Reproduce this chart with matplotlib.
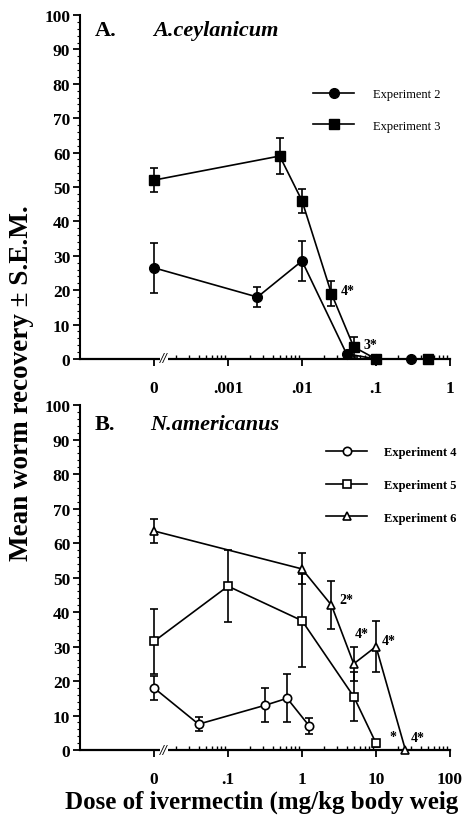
import numpy as np
import matplotlib
matplotlib.use('Agg')
import matplotlib.pyplot as plt
from matplotlib.ticker import FixedLocator, MultipleLocator
from matplotlib.lines import Line2D
import matplotlib.transforms as mtransforms

plt.rcParams['font.family'] = ['Liberation Serif', 'DejaVu Serif']
plt.rcParams['font.weight'] = 'bold'

# ---- panel A: A.ceylanicum ----
exp2_dose = [0, 0.0025, 0.01, 0.04, 0.1, 0.3]
exp2_mean = [26.5, 18, 28.5, 1.5, 0, 0]
exp2_sem = [7.3, 3, 5.7, 0, 0, 0]

exp3_dose = [0, 0.005, 0.01, 0.025, 0.05, 0.1, 0.5]
exp3_mean = [52, 59, 46, 19, 3.5, 0, 0]
exp3_sem = [3.5, 5.3, 3.5, 3.7, 3, 0, 0]

a_ticks = ['0', '.001', '.01', '.1', '1']
a_notes = [(0.025, 19, '4*'), (0.05, 3.5, '3*')]

# ---- panel B: N.americanus ----
exp4_dose = [0, 0.04, 0.32, 0.63, 1.25]
exp4_mean = [18, 7.5, 13, 15, 7]
exp4_sem = [3.5, 2, 5, 7, 2.3]

exp5_dose = [0, 0.1, 1, 5, 10]
exp5_mean = [31.5, 47.5, 37.5, 15.5, 2]
exp5_sem = [9.5, 10.5, 13.5, 7, 1]

exp6_dose = [0, 1, 2.5, 5, 10, 25]
exp6_mean = [63.5, 52.5, 42, 25, 30, 0]
exp6_sem = [3.5, 4.5, 7, 5, 7.3, 0]

b_ticks = ['0', '.1', '1', '10', '100']
b_notes = [(2.5, 42, '2*'), (5, 25, '4*'), (10, 30, '4*'), (10, 2, '*'), (25, 0, '4*')]

fig = plt.figure(figsize=(4.67, 8.2), dpi=100)
ax_a = fig.add_axes([0.1713, 0.5610, 0.7923, 0.4195])
ax_b = fig.add_axes([0.1713, 0.0841, 0.7923, 0.4207])


def xpos(doses, zero):
    return [zero if d == 0 else d for d in doses]


def style_axis(ax, zero, labels):
    ax.set_xscale('log')
    ax.set_xlim(zero / 10, zero * 10 ** 4)
    ax.set_ylim(0, 100)
    for s in ['top', 'right']:
        ax.spines[s].set_visible(False)
    ax.spines['left'].set_linewidth(1.5)
    ax.spines['bottom'].set_linewidth(1.6)
    major = [zero * 10 ** k for k in range(5)]
    ax.xaxis.set_major_locator(FixedLocator(major))
    ax.set_xticklabels(labels)
    minor = [zero * 10 ** k * m for k in range(4) for m in range(2, 10)]
    ax.xaxis.set_minor_locator(FixedLocator(minor))
    ax.yaxis.set_major_locator(MultipleLocator(10))
    ax.yaxis.set_minor_locator(MultipleLocator(2))
    ax.tick_params(axis='x', which='major', direction='out', length=5, width=1.3,
                   labelsize=12.5, pad=10)
    ax.tick_params(axis='x', which='minor', direction='in', length=3, width=1)
    ax.tick_params(axis='y', which='major', direction='out', length=5, width=1.3,
                   labelsize=12.5, pad=2)
    ax.tick_params(axis='y', which='minor', direction='out', length=2.5, width=0.8)
    for lab in ax.get_xticklabels() + ax.get_yticklabels():
        lab.set_fontweight('bold')
    # axis break mark
    tr = mtransforms.blended_transform_factory(ax.transData, ax.transAxes)
    ax.text(zero * 1.36, 0, '//', transform=tr, ha='center', va='center',
            fontsize=10, fontstyle='italic', fontweight='bold',
            bbox=dict(fc='white', ec='none', pad=0.2))


kw = dict(color='black', lw=1.2, capsize=3, elinewidth=1.2, capthick=1.2, clip_on=False)

# panel A
za = 1e-4
style_axis(ax_a, za, a_ticks)
ax_a.errorbar(xpos(exp2_dose, za), exp2_mean, yerr=exp2_sem, marker='o', ms=7,
              mfc='black', mec='black', zorder=3, **kw)
ax_a.errorbar(xpos(exp3_dose, za), exp3_mean, yerr=exp3_sem, marker='s', ms=7,
              mfc='black', mec='black', zorder=3, **kw)
for d, m, t in a_notes:
    ax_a.annotate(t, (d, m), xytext=(7, 2), textcoords='offset points',
                  fontsize=10, fontweight='bold', va='center')
ax_a.text(0.04, 0.955, 'A.', transform=ax_a.transAxes, fontsize=16, fontweight='bold',
          va='center')
ax_a.text(0.198, 0.955, 'A.ceylanicum', transform=ax_a.transAxes, fontsize=16,
          fontweight='bold', fontstyle='italic', va='center')
ha = [Line2D([], [], color='black', lw=1.2, marker='o', ms=7, mfc='black'),
      Line2D([], [], color='black', lw=1.2, marker='s', ms=7, mfc='black')]
ax_a.legend(ha, ['Experiment 2', 'Experiment 3'], loc='upper left',
            bbox_to_anchor=(0.6, 0.82), frameon=False,
            handlelength=3.3, handletextpad=1.5, labelspacing=1.55,
            prop=dict(size=9, weight='normal'))

# panel B
zb = 1e-2
style_axis(ax_b, zb, b_ticks)
ax_b.errorbar(xpos(exp4_dose, zb), exp4_mean, yerr=exp4_sem, marker='o', ms=6,
              mfc='white', mec='black', mew=1.2, zorder=3, **kw)
ax_b.errorbar(xpos(exp5_dose, zb), exp5_mean, yerr=exp5_sem, marker='s', ms=6,
              mfc='white', mec='black', mew=1.2, zorder=3, **kw)
ax_b.errorbar(xpos(exp6_dose, zb), exp6_mean, yerr=exp6_sem, marker='^', ms=6,
              mfc='white', mec='black', mew=1.2, zorder=3, **kw)
b_off = [(6, 4), (1, 22), (4, 4), (10, 5), (4, 9)]
for (d, m, t), off in zip(b_notes, b_off):
    ax_b.annotate(t, (d, m), xytext=off, textcoords='offset points',
                  fontsize=10, fontweight='bold', va='center')
ax_b.text(0.04, 0.945, 'B.', transform=ax_b.transAxes, fontsize=16, fontweight='bold',
          va='center')
ax_b.text(0.19, 0.945, 'N.americanus', transform=ax_b.transAxes, fontsize=16,
          fontweight='bold', fontstyle='italic', va='center')
hb = [Line2D([], [], color='black', lw=1.2, marker=m, ms=6, mfc='white', mew=1.2)
      for m in ['o', 's', '^']]
ax_b.legend(hb, ['Experiment 4', 'Experiment 5', 'Experiment 6'], loc='upper left',
            bbox_to_anchor=(0.635, 0.913), frameon=False,
            handlelength=3.3, handletextpad=1.3, labelspacing=1.65,
            prop=dict(size=9, weight='bold'))

fig.text(0.047, 0.533, 'Mean worm recovery \u00b1 S.E.M.', rotation=90, ha='center',
         va='center', fontsize=19.5, fontweight='bold')
# the reference figure is cropped at the right edge; keep the visible part
fig.text(0.139, 0.021, 'Dose of ivermectin (mg/kg body weig', ha='left',
         va='center', fontsize=18, fontweight='bold')

fig.savefig('out.png', dpi=100)
